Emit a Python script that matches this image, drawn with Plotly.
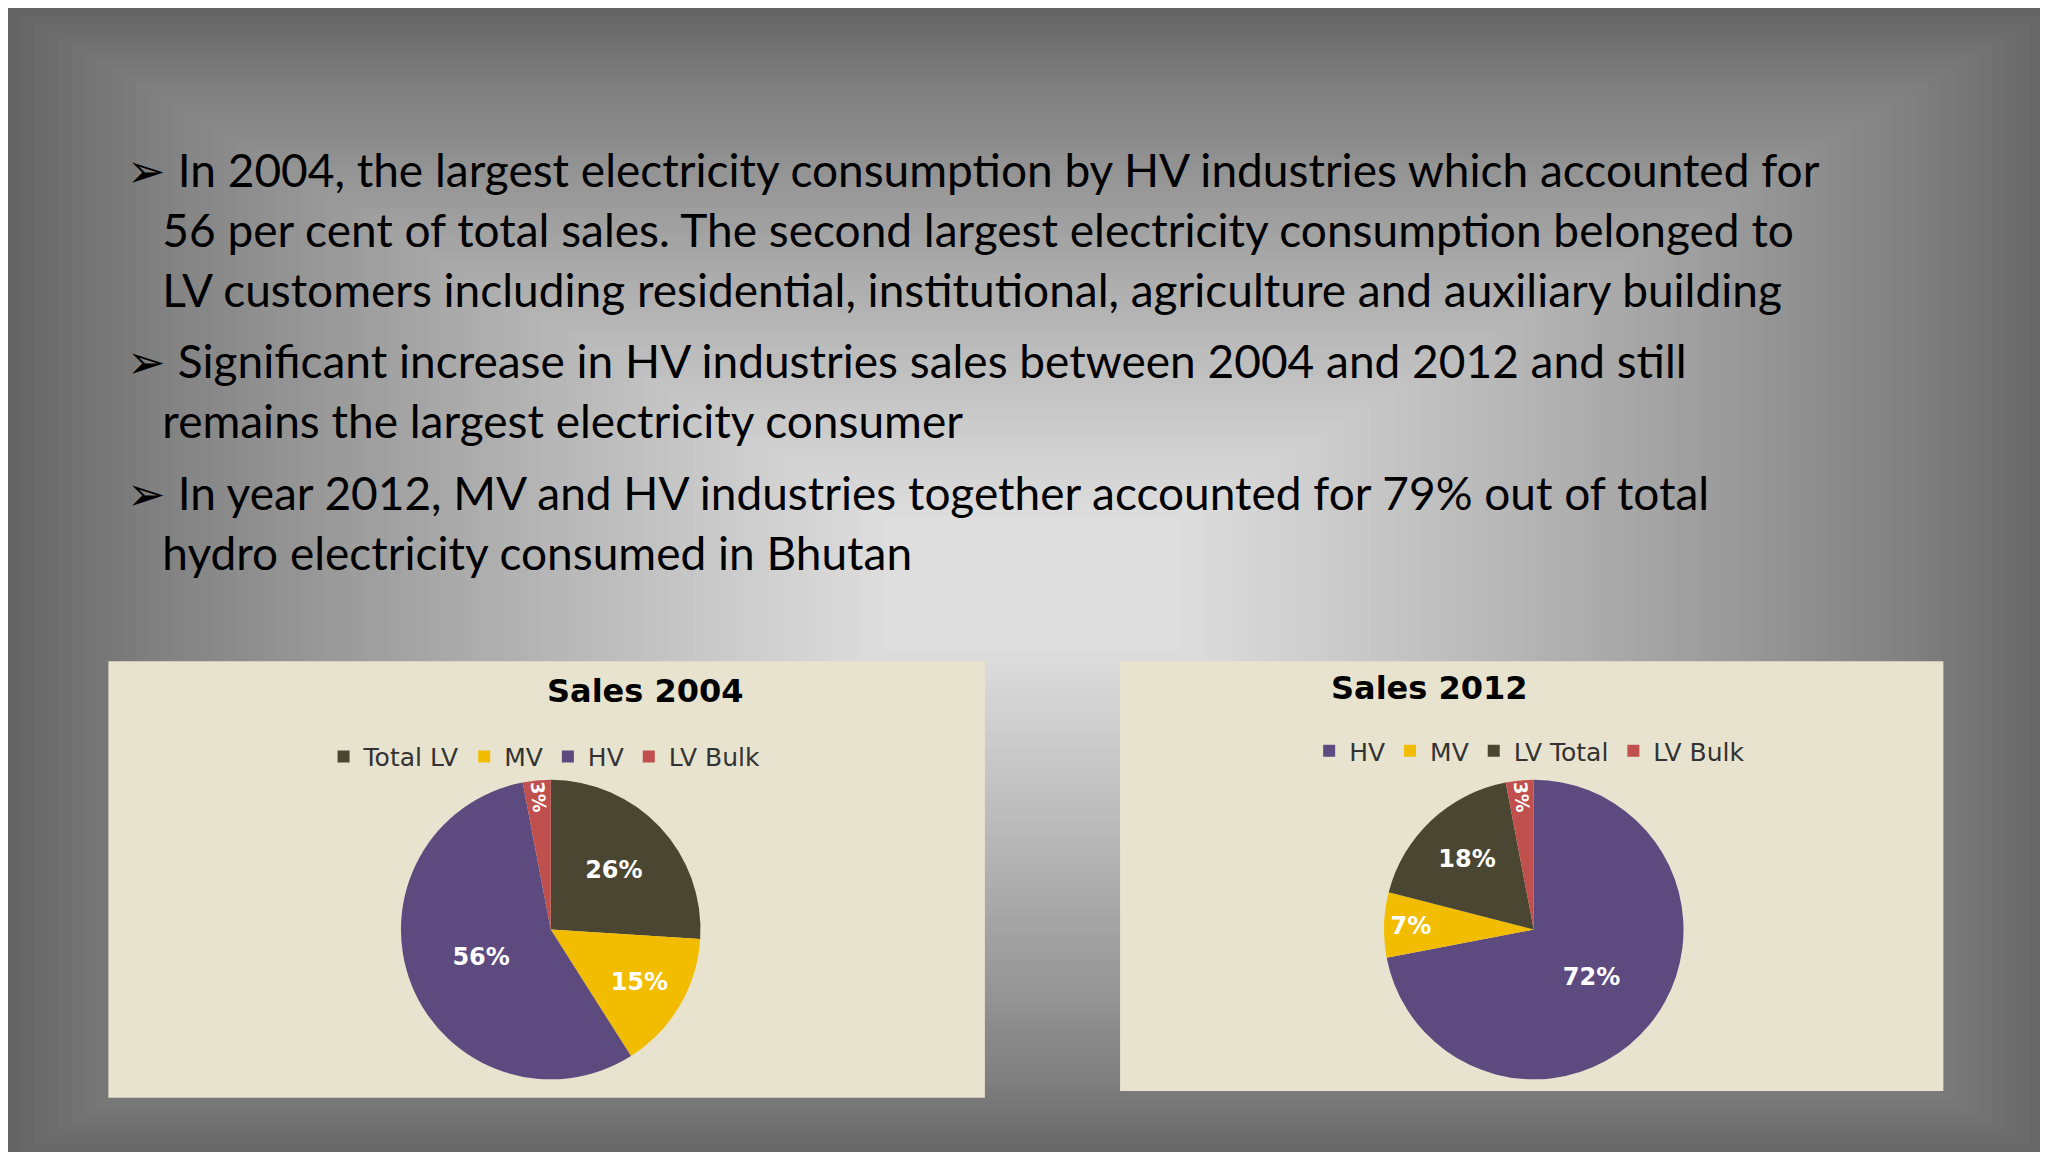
import plotly.graph_objects as go

labels04 = ["Total LV", "MV", "HV", "LV Bulk"]
values04 = [26, 15, 56, 3]
colors04 = ["#4b4631", "#f2bd00", "#5d4a7f", "#c0504d"]

labels12 = ["HV", "MV", "LV Total", "LV Bulk"]
values12 = [72, 7, 18, 3]
colors12 = ["#5d4a7f", "#f2bd00", "#4b4631", "#c0504d"]

bullets = [
    "➢ In 2004, the largest electricity consumption by HV industries which accounted for<br>   56 per cent of total sales. The second largest electricity consumption belonged to<br>   LV customers including residential, institutional, agriculture and auxiliary building",
    "➢ Significant increase in HV industries sales between 2004 and 2012 and still<br>   remains the largest electricity consumer",
    "➢ In year 2012, MV and HV industries together accounted for 79% out of total<br>   hydro electricity consumed in Bhutan",
]

# zero-width prefix keeps the second legend's entries separate from the first
labels12_keys = ["\u200b" + l for l in labels12]

fig = go.Figure()
fig.add_trace(go.Pie(labels=labels04, values=values04, marker=dict(colors=colors04),
                     sort=False, direction="clockwise", rotation=0,
                     texttemplate="<b>%{percent:.0%}</b>", textposition="inside",
                     textfont=dict(family="DejaVu Sans", size=24, color="white"),
                     domain=dict(x=[0.1, 0.43], y=[0.07, 0.33]), legend="legend"))
fig.add_trace(go.Pie(labels=labels12_keys, values=values12, marker=dict(colors=colors12),
                     sort=False, direction="clockwise", rotation=0,
                     texttemplate="<b>%{percent:.0%}</b>", textposition="inside",
                     textfont=dict(family="DejaVu Sans", size=24, color="white"),
                     domain=dict(x=[0.58, 0.91], y=[0.07, 0.33]), legend="legend2"))

shapes = []
n = 70
for i in range(n):
    t = i / (n - 1)
    g = int(100 + (222 - 100) * (t ** 0.8))
    m = 0.5 * t * 0.93
    shapes.append(dict(type="rect", xref="paper", yref="paper", layer="below",
                       x0=m * 0.92, x1=1 - m * 0.92, y0=m * 0.95, y1=1 - m * 0.95,
                       fillcolor=f"rgb({g},{g},{g})", line=dict(width=0)))
shapes.append(dict(type="rect", xref="paper", yref="paper", layer="below",
                   x0=0.049, x1=0.477, y0=0.054, y1=0.433, fillcolor="#e8e3cf", line=dict(width=0)))
shapes.append(dict(type="rect", xref="paper", yref="paper", layer="below",
                   x0=0.543, x1=0.945, y0=0.06, y1=0.433, fillcolor="#e8e3cf", line=dict(width=0)))

ann = []
ys = [0.885, 0.72, 0.605]
for b, y in zip(bullets, ys):
    ann.append(dict(text=b, x=0.057, y=y, xref="paper", yref="paper", xanchor="left", yanchor="top",
                    showarrow=False, align="left", font=dict(family="Lato", size=46, color="black")))
ann.append(dict(text="<b>Sales 2004</b>", x=0.262, y=0.425, xref="paper", yref="paper",
                showarrow=False, yanchor="top", font=dict(family="DejaVu Sans", size=32, color="black")))
ann.append(dict(text="<b>Sales 2012</b>", x=0.743, y=0.428, xref="paper", yref="paper",
                showarrow=False, yanchor="top", font=dict(family="DejaVu Sans", size=32, color="black")))

fig.update_layout(
    width=2048, height=1152, margin=dict(l=0, r=0, t=0, b=0),
    paper_bgcolor="rgb(100,100,100)", shapes=shapes, annotations=ann,
    legend=dict(orientation="h", x=0.262, xanchor="center", y=0.37, yanchor="top",
                font=dict(family="DejaVu Sans", size=25, color="#333"), bgcolor="rgba(0,0,0,0)"),
    legend2=dict(orientation="h", x=0.743, xanchor="center", y=0.375, yanchor="top",
                 font=dict(family="DejaVu Sans", size=25, color="#333"), bgcolor="rgba(0,0,0,0)"),
)
fig.write_html("out.html")
